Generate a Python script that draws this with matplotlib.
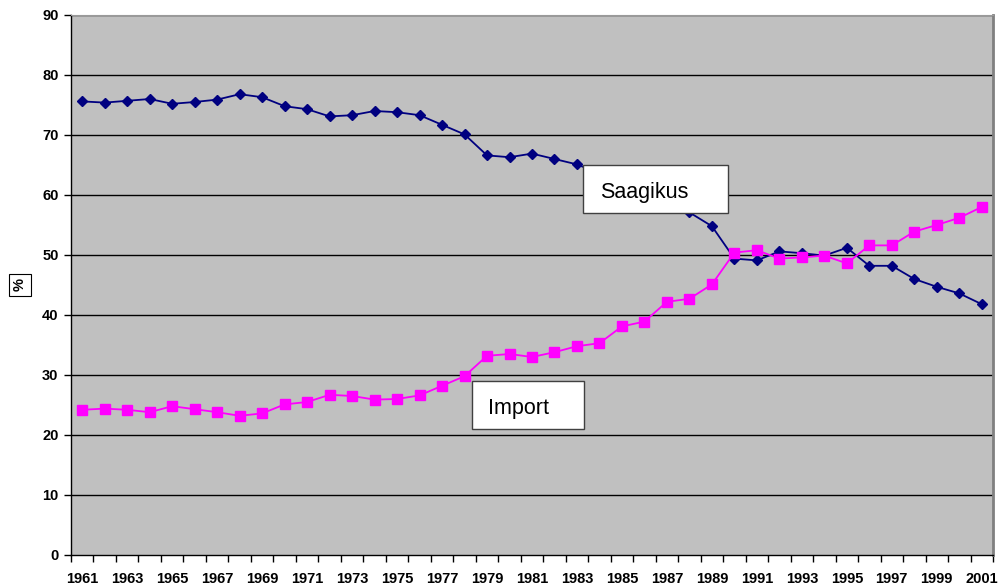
import matplotlib
matplotlib.use("Agg")
import matplotlib.pyplot as plt
from matplotlib.patches import Rectangle

years = list(range(1961, 2002))
saagikus = [75.6, 75.4, 75.7, 76.0, 75.2, 75.5, 75.9, 76.8, 76.3, 74.8,
            74.3, 73.1, 73.3, 74.0, 73.8, 73.3, 71.7, 70.1, 66.6, 66.3,
            66.9, 66.0, 65.1, 63.6, 62.0, 60.2, 58.2, 57.1, 54.8, 49.4,
            49.1, 50.6, 50.3, 49.9, 51.2, 48.2, 48.2, 46.0, 44.7, 43.6,
            41.8]
import_ = [24.2, 24.4, 24.2, 23.8, 24.8, 24.3, 23.8, 23.2, 23.6, 25.1,
           25.5, 26.7, 26.5, 25.9, 26.0, 26.6, 28.2, 29.8, 33.2, 33.5,
           33.0, 33.8, 34.8, 35.3, 38.1, 38.9, 42.2, 42.7, 45.1, 50.4,
           50.8, 49.4, 49.6, 49.9, 48.6, 51.6, 51.6, 53.9, 55.0, 56.2,
           58.0]
y_ticks = [0, 10, 20, 30, 40, 50, 60, 70, 80, 90]
label_saagikus = "Saagikus"
label_import = "Import"
y_label = "%"

plt.rcParams['font.family'] = ['Liberation Sans', 'DejaVu Sans']

fig = plt.figure(figsize=(10.02, 5.88), dpi=100)
W, H = 1002, 588
L, R, T, B = 71, 993, 15, 555
ax = fig.add_axes([L / W, (H - B) / H, (R - L) / W, (B - T) / H])
ax.set_facecolor('#C0C0C0')

n = len(years)
xs = list(range(n))
ax.set_xlim(-0.5, n - 0.5)
ax.set_ylim(0, 90)

for v in y_ticks[1:]:
    ax.axhline(v, color='black', lw=1.0, zorder=1)

ax.plot(xs, saagikus, color='#000080', lw=1.3, marker='D', ms=5.2,
        markerfacecolor='#000080', markeredgecolor='#000080', zorder=3)
ax.plot(xs, import_, color='#FF00FF', lw=1.3, marker='s', ms=6.5,
        markerfacecolor='#FF00FF', markeredgecolor='#FF00FF', zorder=3)

# x ticks at category boundaries, labels every other category
ax.set_xticks([i - 0.5 for i in range(n + 1)])
ax.set_xticklabels([])
ax.set_xticks(xs[::2], minor=True)
ax.set_xticklabels([str(y) for y in years[::2]], minor=True)
ax.tick_params(axis='x', which='major', direction='out', length=5, width=1, color='black')
ax.tick_params(axis='x', which='minor', length=0, pad=12.5, labelsize=10.5)
for lab in ax.get_xticklabels(minor=True):
    lab.set_fontweight('bold')

ax.set_yticks(y_ticks)
ax.set_yticklabels([str(v) for v in y_ticks], fontweight='bold', fontsize=10.5)
ax.tick_params(axis='y', direction='out', length=5, width=1, color='black', pad=4)

for s in ['left', 'bottom']:
    ax.spines[s].set_color('black')
    ax.spines[s].set_linewidth(1.0)
ax.spines['top'].set_color('#9a9a9a')
ax.spines['right'].set_color('#808080')
ax.spines['right'].set_linewidth(2.0)

# text boxes
def tbox(x0, y0, x1, y1, tx, ty, txt):
    ax.add_patch(Rectangle((x0, y0), x1 - x0, y1 - y0, transform=ax.transAxes,
                           facecolor='white', edgecolor='#404040', lw=1.0, zorder=5))
    ax.text(tx, ty, txt, transform=ax.transAxes, fontsize=15.5, va='center',
            ha='left', zorder=6, color='black')

tbox(0.5553, 0.6333, 0.7126, 0.7222, 0.5738, 0.672, label_saagikus)
tbox(0.4349, 0.2333, 0.5564, 0.3222, 0.4523, 0.272, label_import)

fig.text(20 / W, 1 - 285 / H, y_label, rotation=90, fontsize=10.5, fontweight='bold',
         ha='center', va='center',
         bbox=dict(boxstyle='square,pad=0.3', facecolor='white', edgecolor='black', lw=0.8))

fig.savefig('out.png', dpi=100)
